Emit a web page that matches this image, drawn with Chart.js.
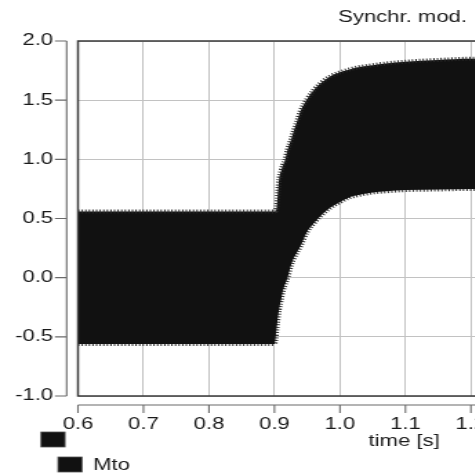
<!DOCTYPE html>
<html>
<head>
<meta charset="utf-8">
<script src="https://cdn.jsdelivr.net/npm/chart.js@4.4.1/dist/chart.umd.min.js"></script>
<style>
  html, body { margin: 0; padding: 0; background: #fff; }
  #wrap { width: 475px; height: 474px; overflow: hidden; position: relative; }
  #chart { position: absolute; left: 0; top: 0; transform: scaleX(1.38); transform-origin: 0 0; }
</style>
</head>
<body>
<div id="wrap"><canvas id="chart" width="400" height="474"></canvas></div>
<script>
// time [s] and the envelope of the Mto trace
const times = [0.6, 0.65, 0.7, 0.75, 0.8, 0.85, 0.9, 0.9015, 0.9035, 0.907, 0.91, 0.913, 0.916, 0.92,
    0.925, 0.93, 0.935, 0.94, 0.95, 0.96, 0.97, 0.985, 1.0, 1.015, 1.03, 1.05, 1.07, 1.1, 1.15, 1.2, 1.25, 1.3];
const mtoUpper = [0.56, 0.56, 0.56, 0.56, 0.56, 0.56, 0.56, 0.56, 0.6, 0.83, 0.9, 0.95, 0.99, 1.08,
    1.16, 1.25, 1.33, 1.41, 1.51, 1.585, 1.64, 1.7, 1.735, 1.76, 1.78, 1.795, 1.81, 1.825, 1.84, 1.85, 1.85, 1.85];
const mtoLower = [-0.56, -0.56, -0.56, -0.56, -0.56, -0.56, -0.56, -0.52, -0.42, -0.27, -0.19, -0.11, -0.06, 0.0,
    0.1, 0.17, 0.22, 0.27, 0.39, 0.46, 0.52, 0.59, 0.64, 0.68, 0.7, 0.72, 0.73, 0.74, 0.745, 0.75, 0.75, 0.75];

const xTicks = [0.6, 0.7, 0.8, 0.9, 1.0, 1.1, 1.2, 1.3];
const yTicks = [-1.0, -0.5, 0.0, 0.5, 1.0, 1.5, 2.0];

const title = 'Synchr. mod.';
const xTitle = 'time [s]';
const seriesName = 'Mto';

const FONT = '"Liberation Sans", Arial, sans-serif';
const INK = '#111';
const TEXT = '#1a1a1a';

const toPoints = (ys) => times.map((t, i) => ({ x: t, y: ys[i] }));

// frame, offset axes, titles and legend
const decor = {
    id: 'decor',
    afterDatasetsDraw (chart) {
        const { ctx, chartArea: a, scales: { x, y } } = chart;
        ctx.save();

        ctx.strokeStyle = '#3a3a3a';
        ctx.lineWidth = 1.5;
        ctx.strokeRect(a.left, a.top, a.right - a.left, a.bottom - a.top);

        // y axis, set off to the left
        const ax = a.left - 8.2;
        ctx.strokeStyle = '#6a6a6a';
        ctx.lineWidth = 1.1;
        ctx.beginPath();
        ctx.moveTo(ax, y.getPixelForValue(yTicks[yTicks.length - 1]));
        ctx.lineTo(ax, y.getPixelForValue(yTicks[0]));
        yTicks.forEach(v => {
            const py = y.getPixelForValue(v);
            ctx.moveTo(ax, py);
            ctx.lineTo(ax - 8.5, py);
        });
        ctx.stroke();

        // x axis, set off below
        const ay = a.bottom + 9;
        ctx.beginPath();
        ctx.moveTo(a.left, ay);
        ctx.lineTo(a.right, ay);
        xTicks.forEach(v => {
            const px = x.getPixelForValue(v);
            ctx.moveTo(px, ay);
            ctx.lineTo(px, ay + 8);
        });
        ctx.stroke();

        ctx.fillStyle = TEXT;
        ctx.font = '16px ' + FONT;
        ctx.textBaseline = 'alphabetic';
        ctx.textAlign = 'left';
        ctx.fillText(title, 245, 22);
        ctx.textAlign = 'center';
        ctx.fillText(xTitle, x.getPixelForValue(1.098), 445.5);

        // legend
        ctx.fillStyle = INK;
        ctx.strokeStyle = '#555';
        ctx.lineWidth = 0.8;
        ctx.fillRect(29.7, 432, 17.4, 15);
        ctx.strokeRect(29.7, 432, 17.4, 15);
        ctx.fillRect(42, 457, 17.4, 15);
        ctx.strokeRect(42, 457, 17.4, 15);
        ctx.fillStyle = TEXT;
        ctx.textAlign = 'left';
        ctx.fillText(seriesName, 67.5, 470);

        ctx.restore();
    }
};

new Chart(
    document.getElementById('chart'),
    {
        type: 'line',
        data: {
            datasets: [
                {
                    label: seriesName,
                    data: toPoints(mtoUpper),
                    borderColor: '#2a2a2a',
                    backgroundColor: INK,
                    borderWidth: 4,
                    borderDash: [1, 1.6],
                    pointRadius: 0,
                    cubicInterpolationMode: 'monotone',
                    fill: '+1'
                },
                {
                    label: seriesName,
                    data: toPoints(mtoLower),
                    borderColor: '#2a2a2a',
                    borderWidth: 4,
                    borderDash: [1, 1.6],
                    pointRadius: 0,
                    cubicInterpolationMode: 'monotone',
                    fill: false
                }
            ]
        },
        options: {
            responsive: false,
            animation: false,
            devicePixelRatio: 1,
            layout: {
                padding: { top: 41, right: 11.3, bottom: 0, left: 0 }
            },
            plugins: {
                legend: { display: false },
                title: { display: false },
                tooltip: { enabled: false }
            },
            scales: {
                x: {
                    type: 'linear',
                    min: 0.6,
                    max: 1.3,
                    afterBuildTicks: (scale) => {
                        scale.ticks = xTicks.map(v => ({ value: v }));
                    },
                    afterFit: (scale) => {
                        scale.height = 78;
                        scale.paddingLeft = 0;
                        scale.paddingRight = 0;
                    },
                    ticks: {
                        callback: (value) => value.toFixed(1),
                        font: { family: FONT, size: 16 },
                        color: TEXT,
                        padding: 19,
                        maxRotation: 0,
                        autoSkip: false
                    },
                    grid: { color: '#c2c2c2', lineWidth: 1, drawTicks: false },
                    border: { display: false }
                },
                y: {
                    min: -1,
                    max: 2,
                    afterBuildTicks: (scale) => {
                        scale.ticks = yTicks.map(v => ({ value: v }));
                    },
                    afterFit: (scale) => {
                        scale.width = 56.5;
                        scale.paddingTop = 0;
                        scale.paddingBottom = 0;
                    },
                    ticks: {
                        callback: (value) => value.toFixed(1),
                        font: { family: FONT, size: 16 },
                        color: TEXT,
                        padding: 18
                    },
                    grid: { color: '#c2c2c2', lineWidth: 1, drawTicks: false },
                    border: { display: false }
                }
            }
        },
        plugins: [decor]
    }
);
</script>
</body>
</html>
